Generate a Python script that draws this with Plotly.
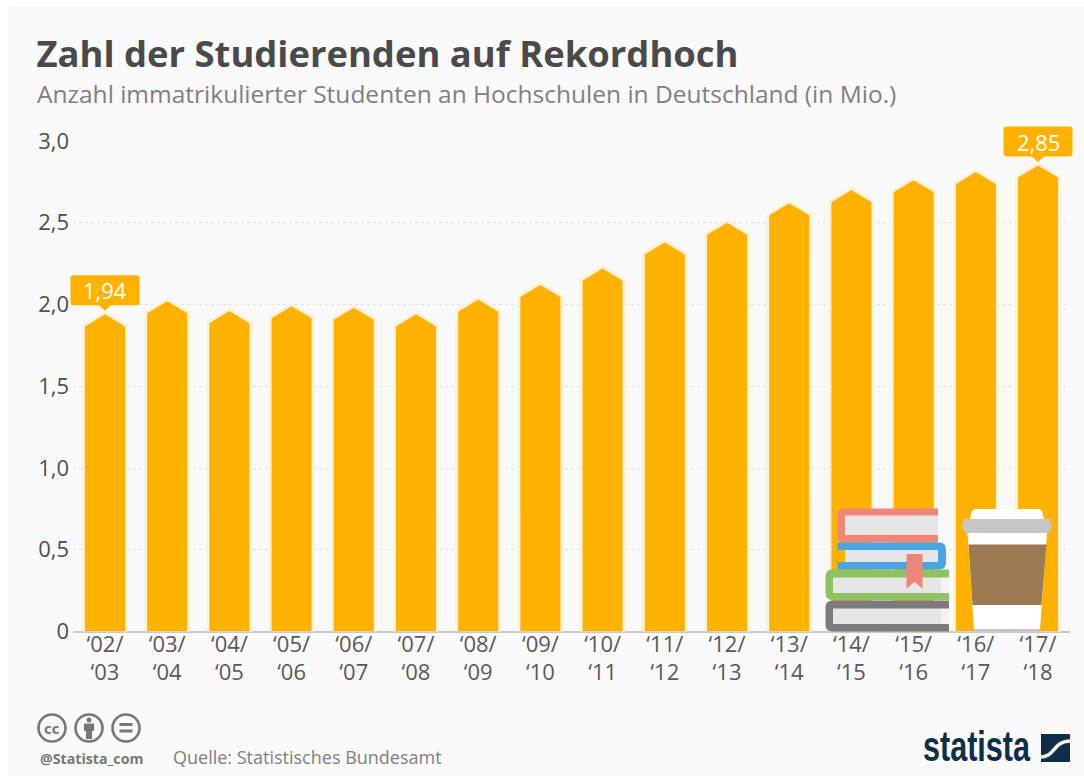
import plotly.graph_objects as go

W, H = 1084, 776

# ---------- data ----------
years = ["‘02/<br>‘03", "‘03/<br>‘04", "‘04/<br>‘05", "‘05/<br>‘06", "‘06/<br>‘07", "‘07/<br>‘08",
         "‘08/<br>‘09", "‘09/<br>‘10", "‘10/<br>‘11", "‘11/<br>‘12", "‘12/<br>‘13", "‘13/<br>‘14",
         "‘14/<br>‘15", "‘15/<br>‘16", "‘16/<br>‘17", "‘17/<br>‘18"]
students = [1.94, 2.02, 1.96, 1.99, 1.98, 1.94, 2.03, 2.12, 2.22, 2.38, 2.50, 2.62, 2.70, 2.76, 2.81, 2.85]
y_ticks = [0, 0.5, 1.0, 1.5, 2.0, 2.5, 3.0]
y_tick_labels = ["0", "0,5", "1,0", "1,5", "2,0", "2,5", "3,0"]
callouts = {0: "1,94", 15: "2,85"}

TITLE = "Zahl der Studierenden auf Rekordhoch"
SUBTITLE = "Anzahl immatrikulierter Studenten an Hochschulen in Deutschland (in Mio.)"
SOURCE = "Quelle: Statistisches Bundesamt"
HANDLE = "@Statista_com"

FONT = "Open Sans"
BAR = "#ffb100"
HALO = "#fbf1dc"
BG = "#f9f9f9"

# plot-area geometry in pixels
LEFT, RIGHT, TOP, BOTTOM = 73, 1070, 141, 631.5
XMIN, XMAX, YMAX = -0.514, 15.514, 3.0

# ---------- helpers ----------
px = lambda x: x / W
py = lambda y: 1 - y / H
scale_x = lambda v: LEFT + (v - XMIN) / (XMAX - XMIN) * (RIGHT - LEFT)
scale_y = lambda v: BOTTOM - v / YMAX * (BOTTOM - TOP)


def rect(x0, y0, x1, y1, fill, layer="above"):
    return dict(type="rect", xref="paper", yref="paper", x0=px(x0), x1=px(x1), y0=py(y0), y1=py(y1),
                fillcolor=fill, line=dict(width=0), layer=layer)


def poly(pts, fill):
    d = "M" + " L".join(f"{px(a):.5f},{py(b):.5f}" for a, b in pts) + " Z"
    return dict(type="path", xref="paper", yref="paper", path=d, fillcolor=fill, line=dict(width=0), layer="above")


def raw(d, fill, line=None, lw=0):
    return dict(type="path", xref="paper", yref="paper", path=d, fillcolor=fill,
                line=dict(width=lw, color=line or fill), layer="above")


def P(x, y):
    return f"{px(x):.5f},{py(y):.5f}"


def book(x0, x1, y0, y1, r, color, round_left=True):
    """solid cover with a rounded spine"""
    if round_left:
        d = (f"M{P(x1, y0)} L{P(x0 + r, y0)} Q{P(x0, y0)} {P(x0, y0 + r)} L{P(x0, y1 - r)} "
             f"Q{P(x0, y1)} {P(x0 + r, y1)} L{P(x1, y1)} Z")
    else:
        d = (f"M{P(x0, y0)} L{P(x1 - r, y0)} Q{P(x1, y0)} {P(x1, y0 + r)} L{P(x1, y1 - r)} "
             f"Q{P(x1, y1)} {P(x1 - r, y1)} L{P(x0, y1)} Z")
    return raw(d, color)


# ---------- pentagon bars, in data units ----------
half = 0.322
shoulder = 0.074
xs, ys = [], []
for i, v in enumerate(students):
    xs += [i - half, i - half, i, i + half, i + half, i - half, None]
    ys += [0, v - shoulder, v, v - shoulder, 0, 0, None]

fig = go.Figure()
fig.add_trace(go.Scatter(x=xs, y=ys, mode="lines", fill="none", line=dict(color=HALO, width=6, shape="linear"),
                         hoverinfo="skip", showlegend=False))
fig.add_trace(go.Scatter(x=xs, y=ys, mode="lines", fill="toself", fillcolor=BAR, line=dict(width=0, color=BAR),
                         hoverinfo="skip", showlegend=False))

shapes = [rect(9, 6, W, H, BG, "below")]

# ---------- callouts placed from the data scale ----------
for i in callouts:
    cx, ay = scale_x(i), scale_y(students[i])
    bw, bh, r, gap = 34.5, 30, 3, 9
    b = ay - gap
    t = b - bh
    l, rr = cx - bw, cx + bw
    d = (f"M{P(cx - 6, b)} L{P(cx, ay - 3.5)} L{P(cx + 6, b)} L{P(rr - r, b)} Q{P(rr, b)} {P(rr, b - r)} "
         f"L{P(rr, t + r)} Q{P(rr, t)} {P(rr - r, t)} L{P(l + r, t)} Q{P(l, t)} {P(l, t + r)} "
         f"L{P(l, b - r)} Q{P(l, b)} {P(l + r, b)} Z")
    shapes.append(raw(d, BAR))

# ---------- books ----------
LG = "#e6e6e6"
SAL = "#f0857a"
shapes += [
    book(837.5, 938, 508.5, 542.5, 7, SAL), rect(845, 515.5, 938, 535, LG),
    book(837.5, 946, 542.5, 569.5, 7, "#47a5e2", False), rect(845, 550, 938, 562, LG), rect(837.5, 550, 845, 562, BAR),
    book(825.5, 949, 569.5, 600, 7, "#8fc261"), rect(833, 577.5, 941, 593, LG), rect(941, 577.5, 949, 593, "#f3f3f3"),
    book(825.5, 949, 600.5, 631.5, 7, "#7b7b7b"), rect(833, 608.5, 941, 624, LG), rect(941, 608.5, 949, 624, "#f3f3f3"),
    poly([(906.5, 554), (922.5, 554), (922.5, 588.5), (914.5, 582), (906.5, 588.5)], SAL),
]

# ---------- coffee cup ----------
shapes += [
    poly([(970, 519), (972, 511), (975, 509), (1039, 509), (1042, 511), (1044, 519)], "#ffffff"),
    poly([(967.5, 533), (1047, 533), (1040, 629), (974, 629)], "#ffffff"),
    poly([(968.5, 544.5), (1046.5, 544.5), (1041.5, 605), (972.5, 605)], "#9c7a52"),
    poly([(964, 519), (1050, 519), (1052, 528), (1048, 533), (966, 533), (962, 528)], "#c6c6c6"),
    rect(974, 629, 1040, 631.5, "#c4c4c4"),
]

# ---------- cc icons ----------
G = "#777777"
for cx in (52, 89, 126):
    shapes.append(dict(type="circle", xref="paper", yref="paper", x0=px(cx - 13.5), x1=px(cx + 13.5),
                       y0=py(728 + 13.5), y1=py(728 - 13.5), line=dict(color=G, width=2.6), fillcolor="rgba(0,0,0,0)",
                       layer="above"))
shapes += [
    dict(type="circle", xref="paper", yref="paper", x0=px(86.5), x1=px(91.5), y0=py(722.5), y1=py(717.5),
         fillcolor=G, line=dict(width=0), layer="above"),
    poly([(84, 723.5), (94, 723.5), (94, 731), (92, 731), (92, 739), (86, 739), (86, 731), (84, 731)], G),
    rect(119.5, 723, 132.5, 726, G), rect(119.5, 729.5, 132.5, 732.5, G),
]

# ---------- statista logo mark ----------
NAVY = "#0f2e4a"
shapes += [
    rect(1041, 734, 1070, 762, NAVY),
    raw(f"M{P(1040, 757)} C{P(1056, 757)} {P(1052, 741)} {P(1071, 741)}", "rgba(0,0,0,0)", BG, 3.5),
]


def label(x, y, text, size, color, anchor="left", family=FONT, **kw):
    return dict(xref="paper", yref="paper", x=px(x), y=py(y), text=text, showarrow=False, xanchor=anchor,
                yanchor="middle", font=dict(family=family, size=size, color=color, **kw))


annotations = [
    label(34.5, 93, SUBTITLE, 24.5, "#808080"),
    label(171, 757, SOURCE, 18, "#808080"),
    label(38, 758, HANDLE, 14.2, G, weight=700),
    label(52, 727.5, "cc", 15, G, "center", weight=700),
    label(976.5, 746, "statista", 42, NAVY, "center", family="Liberation Sans", weight=700),
]
for i, txt in callouts.items():
    annotations.append(label(scale_x(i), scale_y(students[i]) - 24, txt, 22, "#ffffff", "center", weight=500))

fig.update_layout(
    width=W, height=H, autosize=False,
    margin=dict(l=0, r=0, t=0, b=0, pad=0),
    paper_bgcolor="#ffffff", plot_bgcolor="rgba(0,0,0,0)",
    showlegend=False, hovermode=False,
    title=dict(text=f"<b>{TITLE}</b>", x=px(36.5), xanchor="left", xref="paper", y=py(54), yanchor="middle",
               yref="container", font=dict(family=FONT, size=36.4, color="#4a4a4a"), automargin=False),
    xaxis=dict(domain=[px(LEFT), px(RIGHT)], range=[XMIN, XMAX], tickmode="array", tickvals=list(range(len(years))),
               ticktext=years, ticks="", showgrid=False, zeroline=False, showline=False,
               tickfont=dict(family=FONT, size=22, color="#5a5a5a"), tickangle=0, automargin=False,
               ticklabelstandoff=-3),
    yaxis=dict(domain=[py(BOTTOM), py(TOP)], range=[0, YMAX], tickmode="array", tickvals=y_ticks, ticktext=y_tick_labels,
               ticks="", showgrid=True, griddash="dot", gridcolor="#dfdfdf", gridwidth=1, zeroline=True,
               zerolinecolor="#c9c9c9", zerolinewidth=1.5, showline=False, ticklabelstandoff=3,
               tickfont=dict(family=FONT, size=22, color="#4f4f4f"), automargin=False),
    shapes=shapes, annotations=annotations,
)

post = """
document.body.style.margin='0';
document.documentElement.style.overflow='hidden';
document.querySelectorAll('.annotation-text').forEach(function(t){
  if(t.textContent==='statista'){t.setAttribute('textLength','107');t.setAttribute('lengthAdjust','spacingAndGlyphs');}
});
"""
fig.write_html("out.html", config=dict(displayModeBar=False), post_script=post)
